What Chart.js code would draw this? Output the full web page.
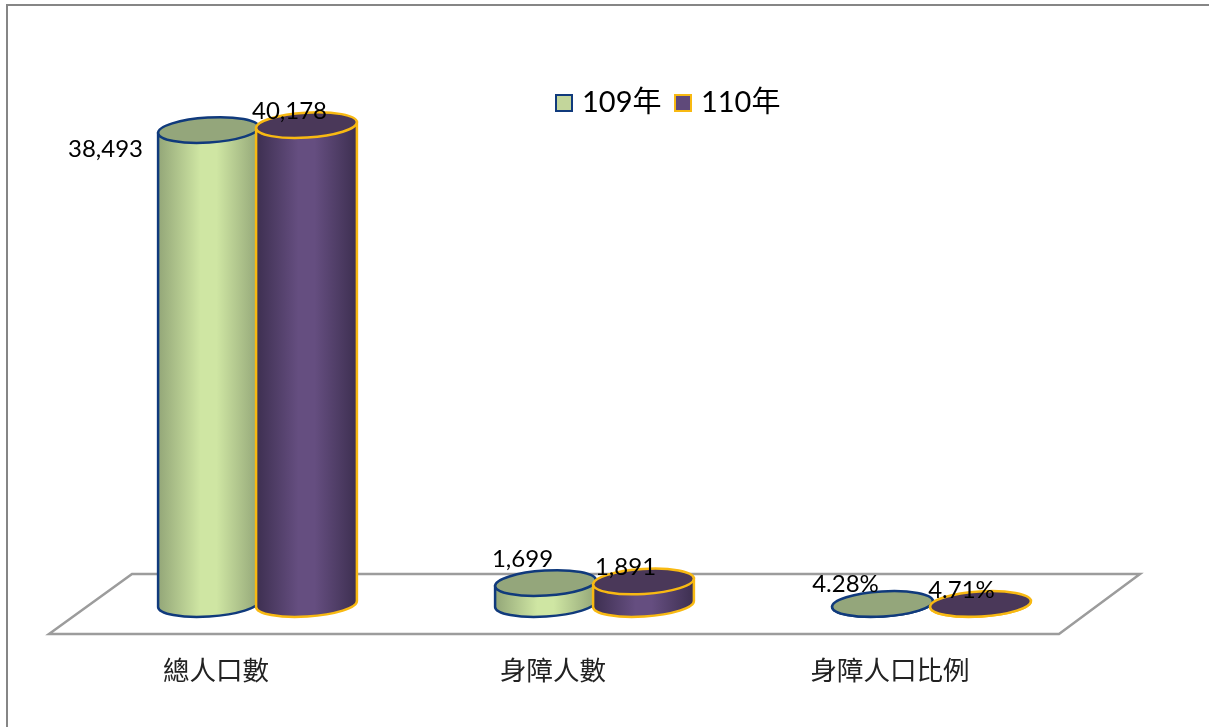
<!DOCTYPE html>
<html>
<head>
<meta charset="utf-8">
<style>html,body{margin:0;padding:0;background:#fff;overflow:hidden}canvas{display:block}</style>
<script src="https://cdn.jsdelivr.net/npm/chart.js@4/dist/chart.umd.min.js"></script>
</head>
<body>
<canvas id="c" width="1209" height="727"></canvas>
<script>
const categories = ["總人口數", "身障人數", "身障人口比例"];
const seriesNames = ["109年", "110年"];
const values109 = [38493, 1699, 4.28];
const values110 = [40178, 1891, 4.71];
const labels109 = ["38,493", "1,699", "4.28%"];
const labels110 = ["40,178", "1,891", "4.71%"];

const FONT = 'Lato, "Noto Sans CJK TC", sans-serif';
const looks = [
  {fill:"#c3d69b", stroke:"#103a7c", edge:"#93a678", mid:"#cfe6a3", top:"#94a67b",
   text:labels109, off:[[-103,19],[-23,-24],[-37,-20]]},
  {fill:"#5f497a", stroke:"#f8b912", edge:"#3d2f50", mid:"#654e80", top:"#4a3859",
   text:labels110, off:[[-17,-14],[-18,-14],[-19,-14]]}
];

function swatch(look){
  const s = document.createElement("canvas");
  s.width = s.height = 22;
  const g = s.getContext("2d");
  g.fillStyle = look.fill; g.fillRect(3,3,16,16);
  g.strokeStyle = look.stroke; g.lineWidth = 2; g.strokeRect(3,3,16,16);
  return s;
}
const swatches = looks.map(swatch);

const RX = 50.5, RY = 12.5, ROT = -3.5 * Math.PI / 180;

const scene = {
  id: "scene",
  afterLayout(chart){
    const lg = chart.legend, w = lg.right - lg.left;
    lg.left = 542.5; lg.right = lg.left + w;
    lg.top = 70.5; lg.bottom = lg.top + lg.height;
  },
  beforeDatasetsDraw(chart){
    const {ctx, chartArea:a} = chart;
    ctx.save();
    ctx.strokeStyle = "#868686"; ctx.lineWidth = 2;
    ctx.beginPath(); ctx.moveTo(7,727); ctx.lineTo(7,5); ctx.lineTo(1209,5); ctx.stroke();
    ctx.strokeStyle = "#9c9c9c"; ctx.lineWidth = 2.5; ctx.lineJoin = "miter";
    ctx.beginPath();
    ctx.moveTo(a.left-40, a.bottom+30);
    ctx.lineTo(a.left+43, a.bottom-30);
    ctx.lineTo(a.right+40, a.bottom-30);
    ctx.lineTo(a.right-41, a.bottom+30);
    ctx.closePath(); ctx.stroke();
    ctx.restore();
  },
  afterDatasetsDraw(chart){
    const {ctx} = chart;
    const dx = RX*Math.cos(ROT), dy = RX*Math.sin(ROT);
    ctx.save();
    chart.data.datasets.forEach((ds,i)=>{
      const look = looks[i];
      chart.getDatasetMeta(i).data.forEach(bar=>{
        const cx = bar.x, ty = bar.y, by = bar.base;
        const g = ctx.createLinearGradient(cx-RX,0,cx+RX,0);
        g.addColorStop(0,look.edge); g.addColorStop(.42,look.mid);
        g.addColorStop(.58,look.mid); g.addColorStop(1,look.edge);
        ctx.lineWidth = 2.5; ctx.strokeStyle = look.stroke;
        ctx.beginPath();
        ctx.moveTo(cx-dx, ty-dy);
        ctx.lineTo(cx-dx, by-dy);
        ctx.ellipse(cx, by, RX, RY, ROT, Math.PI, 0, true);
        ctx.lineTo(cx+dx, ty+dy);
        ctx.closePath();
        ctx.fillStyle = g; ctx.fill(); ctx.stroke();
        ctx.beginPath();
        ctx.ellipse(cx, ty, RX, RY, ROT, 0, Math.PI*2);
        ctx.fillStyle = look.top; ctx.fill(); ctx.stroke();
      });
    });
    ctx.fillStyle = "#000"; ctx.font = "24px "+FONT;
    ctx.textAlign = "center"; ctx.textBaseline = "middle";
    chart.data.datasets.forEach((ds,i)=>{
      const look = looks[i];
      chart.getDatasetMeta(i).data.forEach((bar,j)=>{
        ctx.fillText(look.text[j], bar.x+look.off[j][0], bar.y+look.off[j][1]);
      });
    });
    ctx.restore();
  }
};

new Chart(document.getElementById("c"), {
  type: "bar",
  data: {
    labels: categories,
    datasets: [
      {label:seriesNames[0], data:values109, yAxisID:"y", backgroundColor:looks[0].fill, borderColor:looks[0].stroke, borderWidth:0},
      {label:seriesNames[1], data:values110, yAxisID:"y2", backgroundColor:looks[1].fill, borderColor:looks[1].stroke, borderWidth:0}
    ]
  },
  options: {
    responsive:false, animation:false,
    devicePixelRatio:1,
    layout:{padding:{top:52,left:89,right:109,bottom:0}},
    categoryPercentage:0.5816, barPercentage:1,
    plugins:{
      tooltip:{enabled:false},
      legend:{
        position:"top", align:"start",
        labels:{
          color:"#000", font:{family:FONT,size:29}, usePointStyle:true, pointStyleWidth:7, padding:18,
          generateLabels(chart){
            return Chart.defaults.plugins.legend.labels.generateLabels(chart).map((it,i)=>Object.assign(it,{pointStyle:swatches[i]}));
          }
        }
      }
    },
    scales:{
      x:{
        grid:{display:false,drawTicks:false}, border:{display:false},
        ticks:{color:"#222",font:{family:FONT,size:26.5},padding:52,labelOffset:-41.5,maxRotation:0,autoSkip:false},
        afterFit(s){ s.height = 123; }
      },
      y:{display:false,min:0,max:40200},
      y2:{display:false,min:0,max:41530}
    }
  },
  plugins:[scene]
});
</script>
</body>
</html>
